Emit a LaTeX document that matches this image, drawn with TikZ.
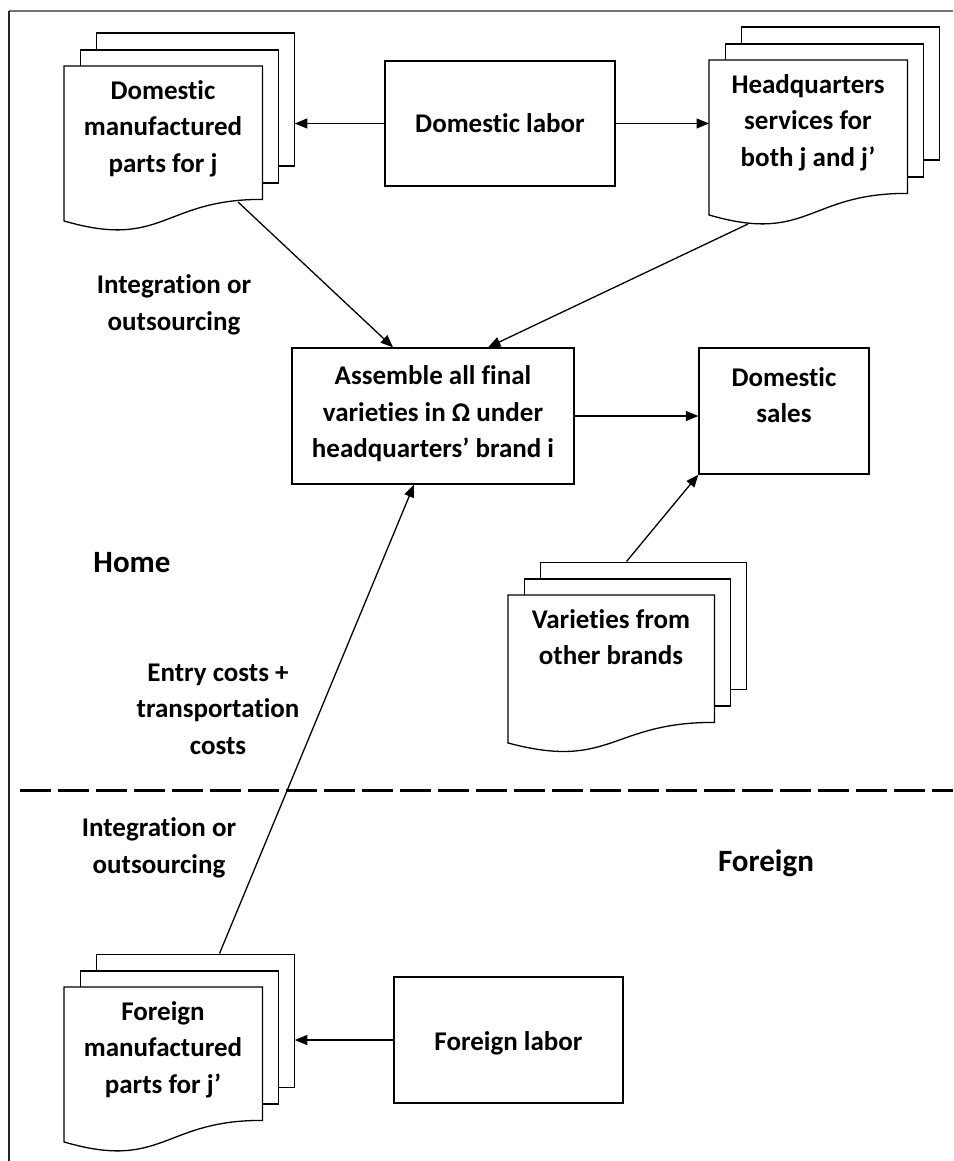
\documentclass[tikz,border=0pt]{standalone}
\usepackage{fontspec}
\setmainfont{Carlito}[Ligatures=NoCommon]
\usepackage{tikz}
\usetikzlibrary{arrows.meta,calc}

% stack of three pages: name, x, y of front page, width, height, text
\newcommand{\docstack}[6]{%
	\node[page, minimum width=#4pt, minimum height=#5pt, anchor=north west] (#1-back) at (#2+31.5,#3-33.5) {};
	\node[page, minimum width=#4pt, minimum height=#5pt, anchor=north west] (#1-mid) at (#2+15.75,#3-16.75) {};
	\node[minimum width=#4pt, minimum height=#5pt, anchor=north west, inner sep=0pt] (#1-front) at (#2,#3) {};
	\draw[line width=1.3pt, fill=white] (#1-front.north west) -- (#1-front.north east) -- (#1-front.south east)
		.. controls (#2+#4/2,#3+#5) and (#2+#4/2,#3+1.383*#5) .. (#2,#3+1.165*#5) -- cycle;
	\node[txt, anchor=north] (#1) at (#2+#4/2,#3+14) {#6};
}

\begin{document}
\begin{tikzpicture}[x=1pt, y=-1pt,
	txt/.style={font=\fontsize{27}{36.5}\selectfont\bfseries, align=center, inner sep=0pt},
	page/.style={draw, line width=1.3pt, fill=white, inner sep=0pt},
	box/.style={draw, line width=1.3pt, fill=white, inner sep=0pt},
	arr/.style={line width=1.3pt, -{Triangle[length=12.5pt, width=10pt]}}]
	\useasboundingbox (0,0) rectangle (953,1161);
	% frame
	\draw[black!55, line width=1.3pt] (9,11) -- (953,11);
	\draw[black!85, line width=1.1pt] (9,11) -- (9,1161);
	% home / foreign border
	\draw[line width=3pt, dash pattern=on 31pt off 7pt] (20,790) -- (953,790);

	\docstack{dparts}{64}{66}{198}{133}{Domestic\\manufactured\\parts for j}
	\docstack{hq}{709}{60}{198}{133}{Headquarters\\services for\\both j and j’}
	\docstack{vars}{508}{595}{206}{127}{Varieties from\\other brands}
	\docstack{fparts}{64}{987}{198}{133}{Foreign\\manufactured\\parts for j’}

	\node[box, minimum width=230pt, minimum height=125pt] (dlab) at (500,123.5) {};
	\node[txt] (dlab-t) at (dlab) {Domestic labor};
	\node[box, minimum width=282pt, minimum height=136pt] (asm) at (433,416) {};
	\node[txt] (asm-t) at (433,414) {Assemble all final\\varieties in Ω under\\headquarters’ brand i};
	\node[box, minimum width=170pt, minimum height=126pt] (dsales) at (784,411) {};
	\node[txt] (dsales-t) at (784,395) {Domestic\\sales};
	\node[box, minimum width=229pt, minimum height=126pt] (flab) at (508.5,1040) {};
	\node[txt] (flab-t) at (508.5,1043) {Foreign labor};

	\node[txt] (intdom) at (174,305) {Integration or\\outsourcing};
	\node[txt, font=\fontsize{31}{36}\selectfont\bfseries] (home) at (132,563) {Home};
	\node[txt] (entry) at (218,709) {Entry costs +\\transportation\\costs};
	\node[txt] (intfor) at (159,848) {Integration or\\outsourcing};
	\node[txt, font=\fontsize{31}{36}\selectfont\bfseries] (foreign) at (766,863) {Foreign};

	% connectors
	\coordinate (dparts-out) at (238,202);
	\coordinate (hq-out) at (748,224);
	\draw[arr] (dlab.west) -- (dlab.west -| dparts-back.east);
	\draw[arr] (dlab.east) -- (dlab.east -| hq-front.west);
	\draw[arr] (dparts-out) -- ($(asm.north)+(-40,0)$);
	\draw[arr] (hq-out) -- ($(asm.north)+(55,0)$);
	\draw[arr] (asm.east) -- (asm.east -| dsales.west);
	\draw[arr] ($(vars-back.north west)+(87,0)$) -- (dsales.south west);
	\draw[arr] ($(fparts-back.north west)+(124,0)$) -- ($(asm.south)+(-19,0)$);
	\draw[arr] (flab.west) -- (flab.west -| fparts-back.east);
\end{tikzpicture}
\end{document}
